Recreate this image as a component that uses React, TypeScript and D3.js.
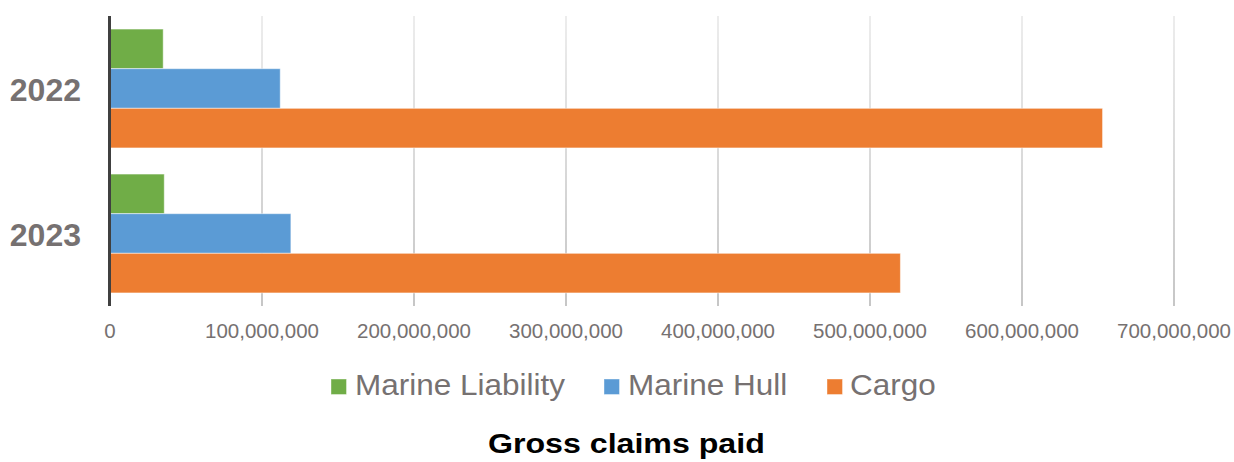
import React from "react";
import * as d3 from "d3";

const years = ["2022", "2023"];
const seriesNames = ["Marine Liability", "Marine Hull", "Cargo"];
const marineLiability = [35000000, 35700000];
const marineHull = [112000000, 119000000];
const cargo = [653000000, 520000000];
const xTicks = [0, 100000000, 200000000, 300000000, 400000000, 500000000, 600000000, 700000000];
const colors = ["#70AD47", "#5B9BD5", "#ED7D31"];
const title = "Gross claims paid";

export default function App() {
  const W = 1234, H = 462;
  const top = 16, bottom = 306;
  const x = d3.scaleLinear().domain([0, 700000000]).range([110, 1174]);
  const y = d3.scaleBand().domain(years).range([top, bottom]).paddingInner(0.18).paddingOuter(0.09);
  const sub = d3.scaleBand().domain(seriesNames).range([0, y.bandwidth()]);
  const values = [marineLiability, marineHull, cargo];
  const fmt = d3.format(",");

  const legendItems = [
    { name: seriesNames[0], sq: 331, tx: 355 },
    { name: seriesNames[1], sq: 604, tx: 628 },
    { name: seriesNames[2], sq: 827, tx: 850 },
  ];

  return (
    <svg width={W} height={H} style={{ position: "absolute", left: 0, top: 0 }} fontFamily="'Liberation Sans', Arial, sans-serif">
      <defs>
        <linearGradient id="gridg" gradientUnits="userSpaceOnUse" x1="0" y1={top} x2="0" y2={bottom}>
          <stop offset="0" stopColor="#e0e0e0" />
          <stop offset="1" stopColor="#a0a0a0" />
        </linearGradient>
      </defs>
      <rect width={W} height={H} fill="#fff" />
      {xTicks.slice(1).map((t) => (
        <line key={t} x1={x(t)} x2={x(t)} y1={top} y2={bottom} stroke="url(#gridg)" strokeWidth={1.2} />
      ))}
      {years.map((yr, i) => (
        <g key={yr}>
          {seriesNames.map((s, j) => (
            <rect
              key={s}
              x={x(0)}
              y={(y(yr) as number) + (sub(s) as number)}
              width={x(values[j][i]) - x(0)}
              height={sub.bandwidth()}
              fill={colors[j]}
              stroke="#ffffff"
              strokeOpacity={0.5}
              strokeWidth={1}
            />
          ))}
          <text
            x={81}
            y={(y(yr) as number) + y.bandwidth() / 2 + 12}
            textAnchor="end"
            fontSize={32}
            fontWeight="bold"
            fill="#767171"
          >
            {yr}
          </text>
        </g>
      ))}
      <line x1={109.5} x2={109.5} y1={top} y2={bottom} stroke="#404040" strokeWidth={3} />
      {xTicks.map((t) => (
        <text key={t} x={x(t)} y={338} textAnchor="middle" fontSize={20.5} fill="#767171">
          {fmt(t)}
        </text>
      ))}
      {legendItems.map((l, i) => (
        <g key={l.name}>
          <rect x={l.sq} y={379} width={15.5} height={15.5} fill={colors[i]} stroke="#fff" strokeOpacity={0.4} />
          <text transform={`translate(${l.tx},395) scale(1.068,1)`} fontSize={29.5} fill="#767171">
            {l.name}
          </text>
        </g>
      ))}
      <text transform="translate(488,453) scale(1.128,1)" fontSize={28.5} fontWeight="bold" fill="#000">
        {title}
      </text>
    </svg>
  );
}
